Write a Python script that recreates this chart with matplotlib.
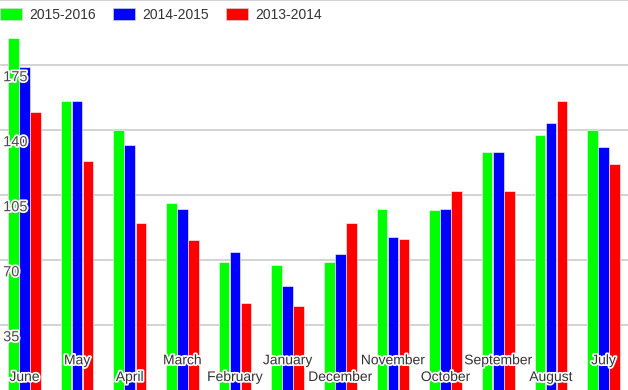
import numpy as np
import matplotlib.pyplot as plt
import matplotlib.patheffects as pe
from matplotlib.patches import Patch

months = ['June', 'May', 'April', 'March', 'February', 'January',
          'December', 'November', 'October', 'September', 'August', 'July']
s2015 = [189.5, 155.5, 139.8, 100.7, 68.9, 67.3, 68.9, 97.5, 96.9, 128.2, 137.5, 139.8]
s2014 = [173.8, 155.5, 131.8, 97.5, 74.3, 56.0, 73.2, 82.4, 97.5, 128.2, 143.8, 130.7]
s2013 = [149.5, 123.3, 89.9, 80.8, 46.8, 45.5, 89.9, 81.3, 107.2, 107.2, 155.6, 121.7]
series_names = ['2015-2016', '2014-2015', '2013-2014']
colors = ['#00ff00', '#0000ff', '#ff0000']
yticks = [35, 70, 105, 140, 175]

plt.rcParams['font.family'] = ['Liberation Sans', 'DejaVu Sans']

fig = plt.figure(figsize=(6.28, 3.90), dpi=100)
ax = fig.add_axes([0, 0, 1, 1])

x = np.arange(len(months))
w = 0.2
for i, (vals, c) in enumerate(zip([s2015, s2014, s2013], colors)):
    ax.bar(x + (i - 1) * 0.21, vals, width=w, color=c,
           edgecolor='#ffffff', linewidth=0.4, zorder=3)

ax.set_xlim(-0.465, 11.465)
ax.set_ylim(0, 210)
for t in yticks + [210]:
    ax.axhline(t, color='#cccccc', linewidth=1.2, zorder=1)

# y labels sit inside the plot, just under each grid line
halo = [pe.withStroke(linewidth=2.5, foreground='white')]
for t in yticks:
    ax.text(0.005, t - 2.8, str(t), ha='left', va='top', fontsize=10.5,
            color='#4a4a4a', path_effects=halo, zorder=5,
            transform=ax.get_yaxis_transform())
# month names staggered at the bottom
for i, m in enumerate(months):
    yy = 7 if i % 2 == 0 else 16
    ax.text(i, yy, m, ha='center', va='center', fontsize=10,
            color='#333333', path_effects=halo, zorder=5)

ax.set_xticks([])
ax.set_yticks([])
for s in ax.spines.values():
    s.set_visible(False)

handles = [Patch(facecolor=c, edgecolor='#dddddd', linewidth=0.4) for c in colors]
ax.legend(handles, series_names, loc='upper left', ncol=3, frameon=False,
          bbox_to_anchor=(-0.016, 1.005), fontsize=10, handlelength=1.6,
          handleheight=0.85, handletextpad=0.5, columnspacing=1.25,
          borderaxespad=0.3, labelcolor='#333333')

fig.savefig('out.png', dpi=100)
